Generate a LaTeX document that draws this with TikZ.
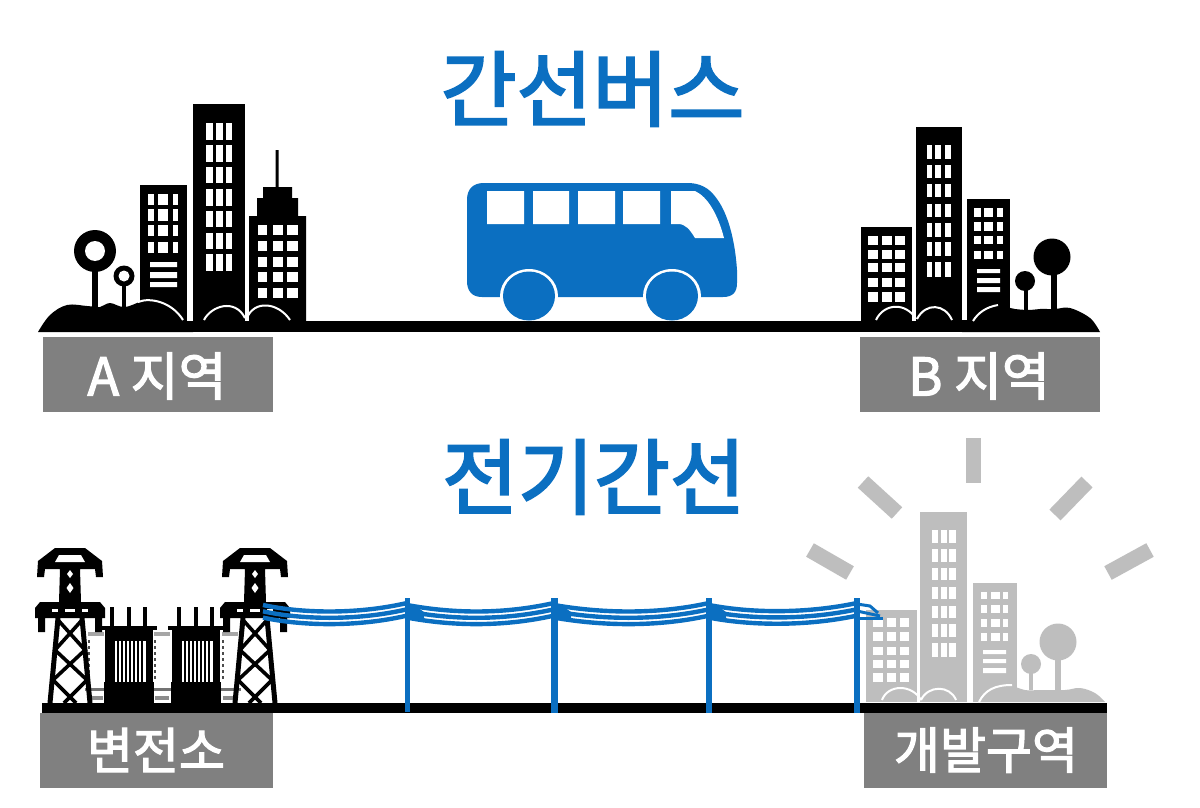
\documentclass[tikz,border=0pt]{standalone}
\usepackage{fontspec}
\newfontfamily\krt[FakeBold=2.6]{Noto Sans CJK KR}
\newfontfamily\krl[FakeBold=2.4]{Noto Sans CJK KR}
\definecolor{busblue}{HTML}{0B6FC1}
\definecolor{labelgrey}{HTML}{808080}
\definecolor{paleCity}{HTML}{BEBEBE}
\tikzset{
  titletext/.style={text=busblue,font=\krt\fontsize{82.5}{82.5}\selectfont,inner sep=0pt},
  labeltext/.style={text=white,font=\krl\fontsize{50}{50}\selectfont,inner sep=0pt},
  labeltextwide/.style={text=white,font=\krl\fontsize{52}{52}\selectfont,inner sep=0pt},
  labelbox/.style={fill=labelgrey},
  ink/.style={fill=black},
  road/.style={fill=black},
  wire/.style={draw=busblue,line width=4.4pt},
  pole/.style={fill=busblue},
  ray/.style={draw=paleCity,line width=15.5pt},
  hillarc/.style={draw=white,line width=2pt},
  leg/.style={draw=black,line width=5pt},
  brace/.style={draw=black,line width=3.6pt}
}
\newcommand{\wgrid}[2]{\foreach \xa/\xb in {#1}{\foreach \ya/\yb in {#2}{\fill[white] (\xa,\ya) rectangle (\xb,\yb);}}}
\newcommand{\towerat}[1]{%
\begin{scope}[shift={(#1,0)}]
  % top and lower cross-arms in one outline
  \fill[ink] (-15,548) -- (15,548) -- (32,561) -- (33,577) -- (26,577) -- (25,569) -- (10,569) -- (11,602)
     -- (30,602) -- (35,608) -- (35,618) -- (32,618) -- (32,632) -- (25,632) -- (25,618) -- (-25,618) -- (-25,632)
     -- (-32,632) -- (-32,618) -- (-35,618) -- (-35,608) -- (-30,602) -- (-11,602) -- (-10,569) -- (-25,569) -- (-26,577)
     -- (-33,577) -- (-32,561) -- cycle;
  \fill[white] (-11,555) -- (11,555) -- (15,562) -- (-15,562) -- cycle;
  \fill[white] (0,570) -- (3,574) -- (0,578) -- (-3,574) -- cycle;
  \fill[white] (0,583) -- (3.5,588) -- (0,593) -- (-3.5,588) -- cycle;
  \fill[white] (-18,609) rectangle (-12,611.5);
  \fill[white] (-5,609) rectangle (5,611.5);
  \fill[white] (12,609) rectangle (18,611.5);
  % lattice
  \draw[leg] (-12,618) -- (-20,703);
  \draw[leg] (12,618) -- (20,703);
  \draw[brace] (-12,620) -- (15,650) -- (-17,680) -- (6,703);
  \draw[brace] (12,620) -- (-15,650) -- (17,680) -- (-6,703);
\end{scope}}
\newcommand{\transat}[1]{%
\begin{scope}[shift={(#1,0)}]
  \foreach \b in {-17,0,16}{\fill[ink] (\b-2,607) rectangle (\b+2,630);}
  \fill[ink] (-28,626) rectangle (28,630);
  \fill[ink] (-24,630) rectangle (24,641);
  \fill[ink] (-24,641) rectangle (-16,692);
  \fill[ink] (17,641) rectangle (24,692);
  \fill[ink] (-25,682) rectangle (25,703);
  \foreach \s in {-16,-12,-8,-4,0,4,8,12}{\fill[ink] (\s,641) rectangle (\s+2.2,682);}
\end{scope}}
\newcommand{\sideinsul}[1]{%
\begin{scope}[shift={(#1,0)}]
  \fill[black!35] (-8,632) rectangle (8,636);
  \draw[black!70,line width=1.5pt,dashed] (-7,640) -- (-7,680);
  \fill[black!55] (-11,688) rectangle (11,691);
  \fill[black!45] (-7,696) rectangle (7,700);
\end{scope}}
\newcommand{\wireblob}[1]{\fill[busblue] (#1,606) -- (#1+10,607) -- (#1+17,612) -- (#1+17,618) -- (#1+8,620) -- (#1,619) -- cycle;}
\begin{document}
\begin{tikzpicture}[x=1pt,y=-1pt]
\useasboundingbox (0,0) rectangle (1200,808);
\fill[white] (0,0) rectangle (1200,808);

% ---------- titles
\node[titletext] (title1) at (592.5,89) {간선버스};
\node[titletext] (title2) at (594,477) {전기간선};

% ---------- top road
\fill[road] (300,321) rectangle (870,332);

% ---------- A city
\fill[ink] (193,104) rectangle (245,325);
\fill[ink] (140,185) rectangle (187,325);
\fill[ink] (249,216) -- (257,216) -- (257,198) -- (263,198) -- (263,187) -- (275.5,187) -- (275.5,150) -- (278.5,150) -- (278.5,187) -- (292,187) -- (292,198) -- (298,198) -- (298,216) -- (306,216) -- (306,325) -- (249,325) -- cycle;
\wgrid{206/213,216/223,226/232}{123/140,145/162,167/183,189/206,211/227,233/249,254/271}
\wgrid{148/154,158/168,173/178}{194/205,209/221,225/236,242/253}
\fill[white] (150,262) rectangle (177,267) (150,272) rectangle (177,278) (150,282) rectangle (177,287);
\wgrid{258/267,273/283,287/298}{225/235,241/251,257/267,272/282,288/298}
\fill[ink] (92,251) rectangle (98,310);
\fill[ink] (122,276) rectangle (126,310);
\fill[ink] (95,251) circle (21);
\fill[white] (95,251) circle (10);
\fill[ink] (124,276) circle (10.5);
\fill[white] (124,276) circle (5.5);
\fill[ink] (38,332) -- plot[smooth,tension=.6] coordinates {(38,332) (50,315) (67,305) (87,306) (100,307) (110,303) (125,307) (147,300) (165,304) (178,314) (186,325)} -- (193,325) -- (193,332) -- cycle;
\fill[ink] (187,321) rectangle (306,332);
\draw[hillarc] (138,302) .. controls (150,297) and (172,302) .. (183,320);
\draw[hillarc] (204,320) .. controls (211,306) and (235,298) .. (245,318);
\draw[hillarc] (247,318) .. controls (254,300) and (278,302) .. (290,320);
\fill[labelgrey] (43,337) rectangle (273,412);
\node[labeltextwide] (labelA) at (157,376) {A 지역};

% ---------- B city
\fill[ink] (916,127) rectangle (962,325);
\fill[ink] (861,227) rectangle (912,325);
\fill[ink] (967,199) rectangle (1010,325);
\wgrid{927/932,935/941,945/951}{145/159,165/178,184/197,204/217,223/237,242/256,262/277}
\wgrid{868/878,882/892,895/905}{236/245,250/259,263/272,278/287,292/302}
\wgrid{974/981,984/993,997/1003}{208/217,222/231,236/244,251/259}
\fill[white] (977,269) rectangle (1000,273) (977,278) rectangle (1000,283) (977,287) rectangle (1000,292);
\fill[ink] (1051,257) rectangle (1057,312);
\fill[ink] (1024,281) rectangle (1028,312);
\fill[ink] (1052,257) circle (18.5);
\fill[ink] (1025,281) circle (10);
\fill[ink] (1100,332) -- plot[smooth,tension=.6] coordinates {(1100,332) (1090,318) (1070,308) (1055,309) (1040,309) (1030,310) (1015,309) (1000,306) (985,310) (973,320)} -- (962,320) -- (962,332) -- cycle;
\fill[ink] (861,321) rectangle (970,332);
\draw[hillarc] (973,321) .. controls (978,313) and (986,307) .. (998,305);
\draw[hillarc] (876,320) .. controls (884,303) and (906,302) .. (916,319);
\draw[hillarc] (917,319) .. controls (926,302) and (945,304) .. (952,320);
\fill[labelgrey] (860,337) rectangle (1100,412);
\node[labeltextwide] (labelB) at (979,376) {B 지역};

% ---------- bus
\fill[busblue] (467,200) .. controls (467,189) and (473,183) .. (484,183) -- (690,183) .. controls (705,184) and (712,192) .. (717,199) .. controls (728,214) and (735,240) .. (737,270) -- (737,283) .. controls (737,292) and (733,297) .. (723,297) -- (482,297) .. controls (472,297) and (467,291) .. (467,281) -- cycle;
\fill[white] (529,296) ellipse (29 and 27);
\fill[white] (672,296) ellipse (29 and 27);
\fill[white] (500,297) rectangle (558,321);
\fill[white] (643,297) rectangle (701,321);
\fill[busblue] (529,296) ellipse (26 and 24.5);
\fill[busblue] (672,296) ellipse (26 and 24.5);
\fill[white] (487,191) rectangle (524,224) (533,191) rectangle (569,224) (578,191) rectangle (615,224) (623,191) rectangle (660,224);
\fill[white] (671,191) -- (695,191) .. controls (708,197) and (718,215) .. (724,238) -- (695,238) .. controls (690,230) and (686,224) .. (678,224) -- (671,224) -- cycle;
\fill[road] (500,321) rectangle (701,332);

% ---------- lower left: substation
\fill[road] (42,703) rectangle (1107,713);
\sideinsul{96}
\sideinsul{162}
\sideinsul{230}
\transat{129}
\transat{196}
\towerat{70}
\towerat{255}
\fill[labelgrey] (40,713) rectangle (273,788);
\node[labeltext] (labelS) at (156,750) {변전소};

% ---------- lower right: pale city
\foreach \ra/\rb/\rc/\rd in {973.5/438/973.5/483, 863/482/897/513, 1087/482/1055/515, 810/550/850/573, 1150/550/1108/573}{
  \draw[ray] (\ra,\rb) -- (\rc,\rd);}
\fill[paleCity] (920,512) rectangle (967,702);
\fill[paleCity] (866,610) rectangle (917,702);
\fill[paleCity] (973,583) rectangle (1017,702);
\wgrid{932/938,941/947,949/956}{530/543,549/562,568/580,587/599,606/618,624/637,643/657}
\wgrid{873/883,887/896,900/909}{618/627,632/641,647/655,660/668,673/682}
\wgrid{981/987,991/1000,1003/1008}{592/599,605/613,619/627,633/641}
\fill[white] (983,650) rectangle (1006,654) (983,659) rectangle (1006,663) (983,668) rectangle (1006,673);
\fill[paleCity] (1055,642) rectangle (1061,690);
\fill[paleCity] (1029,664) rectangle (1033,690);
\fill[paleCity] (1058,642) circle (18.5);
\fill[paleCity] (1031,664) circle (10);
\fill[paleCity] (1105,702) -- plot[smooth,tension=.6] coordinates {(1105,702) (1095,693) (1080,688) (1065,690) (1040,690) (1025,690) (1005,684) (990,688) (978,702)} -- cycle;
\draw[hillarc] (979,702) .. controls (985,690) and (995,685) .. (1012,685);
\draw[hillarc] (882,700) .. controls (888,684) and (912,684) .. (921,700);
\draw[hillarc] (921,700) .. controls (928,685) and (950,685) .. (956,700);
\fill[white] (917,610) rectangle (920,702);
\fill[white] (967,583) rectangle (973,702);
\fill[labelgrey] (864,713) rectangle (1107,788);
\node[labeltext] (labelD) at (986,750) {개발구역};

% ---------- wires and poles
\foreach \d in {0,6.3,12.6}{
  \draw[wire] (263,605+\d) .. controls (300,613+\d) and (355,615+\d) .. (407,603+\d);
  \draw[wire] (407,605+\d) .. controls (450,613+\d) and (500,615+\d) .. (554,603+\d);
  \draw[wire] (554,605+\d) .. controls (600,613+\d) and (655,615+\d) .. (709,603+\d);
  \draw[wire] (709,605+\d) .. controls (750,613+\d) and (805,614+\d) .. (857,603+\d);
}
\wireblob{407}
\wireblob{554}
\wireblob{709}
\draw[wire,line width=3pt] (857,604) -- (870,606) -- (878,613);
\draw[wire,line width=3pt] (857,611) -- (880,616);
\draw[wire,line width=3pt] (857,618) -- (883,618);
\fill[pole] (404.5,598) rectangle (409.5,712);
\fill[pole] (550.5,598) rectangle (557.5,713);
\fill[pole] (706,598) rectangle (712,713);
\fill[pole] (854,598) rectangle (860,713);
\end{tikzpicture}
\end{document}
